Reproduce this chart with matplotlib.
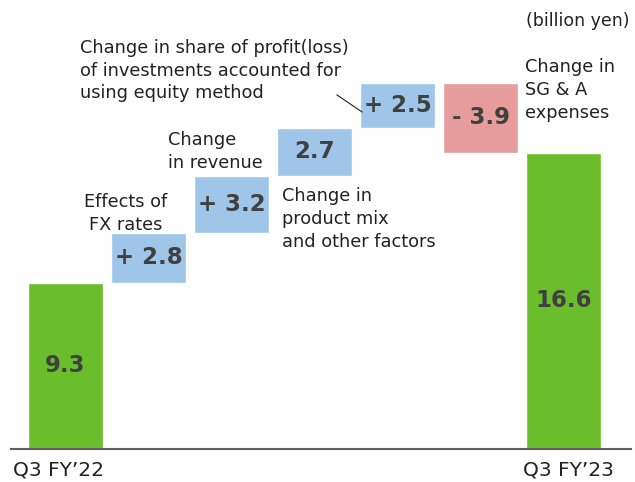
import numpy as np
import matplotlib.pyplot as plt

# waterfall values (billion yen)
steps = ["Q3 FY’22", "fx", "revenue", "mix", "equity", "sga", "Q3 FY’23"]
values = [9.3, 2.8, 3.2, 2.7, 2.5, -3.9, 16.6]
value_labels = ["9.3", "+ 2.8", "+ 3.2", "2.7", "+ 2.5", "- 3.9", "16.6"]
tick_labels = ["Q3 FY’22", "", "", "", "", "", "Q3 FY’23"]

green = "#6abd2b"
blue = "#9fc5e8"
red = "#e59c9b"
dark = "#404040"
txt = "#222222"

fig = plt.figure(figsize=(6.35, 4.82), dpi=100)
ax = fig.add_axes([0, 0, 1, 1])
ax.set_xlim(-0.789, 6.861)
ax.set_ylim(-1.849, 25.15)
ax.axis("off")

x = np.arange(len(values))
bottoms = []
colors = []
heights = []
running = 0.0
for i, v in enumerate(values):
    if i == 0 or i == len(values) - 1:
        bottoms.append(0)
        heights.append(v)
        colors.append(green)
        running = v
    else:
        if v >= 0:
            bottoms.append(running)
            heights.append(v)
            colors.append(blue)
        else:
            bottoms.append(running + v)
            heights.append(-v)
            colors.append(red)
        running += v

ax.bar(x, heights, bottom=bottoms, width=0.9, color=colors,
       edgecolor="white", linewidth=1.0, zorder=2)

for xi, b, h, lab in zip(x, bottoms, heights, value_labels):
    ax.text(xi, b + h / 2, lab, ha="center", va="center", fontsize=16.5,
            fontweight="bold", color=dark, zorder=3)

# baseline
ax.plot([-0.66, 6.81], [0, 0], color="#606060", lw=1.5, zorder=3)

tick_shift = [-0.085, 0, 0, 0, 0, 0, 0.06]
for xi, t, dx in zip(x, tick_labels, tick_shift):
    if t:
        ax.text(xi + dx, -1.15, t, ha="center", va="center", fontsize=14.5,
                color=txt)

ax.text(6.79, 23.98, "(billion yen)", ha="right", va="center",
        fontsize=12.5, color=txt)

fs = 12.8
ls = 1.35
ax.text(0.729, 13.2, "Effects of\nFX rates", ha="center", va="center",
        multialignment="center", fontsize=fs, linespacing=ls, color=txt)
ax.text(1.235, 16.67, "Change\nin revenue", ha="left", va="center",
        fontsize=fs, linespacing=ls, color=txt)
ax.text(2.608, 12.88, "Change in\nproduct mix\nand other factors", ha="left",
        va="center", fontsize=fs, linespacing=ls, color=txt)
ax.text(0.175, 21.2, "Change in share of profit(loss)\nof investments accounted for\nusing equity method",
        ha="left", va="center", fontsize=fs, linespacing=ls, color=txt)
ax.text(5.536, 20.11, "Change in\nSG & A\nexpenses", ha="left", va="center",
        fontsize=fs, linespacing=ls, color=txt)

# leader line to the equity-method box
ax.plot([3.271, 3.572], [19.83, 18.88], color=txt, lw=0.8, zorder=4)

fig.savefig("out.png", dpi=100)
